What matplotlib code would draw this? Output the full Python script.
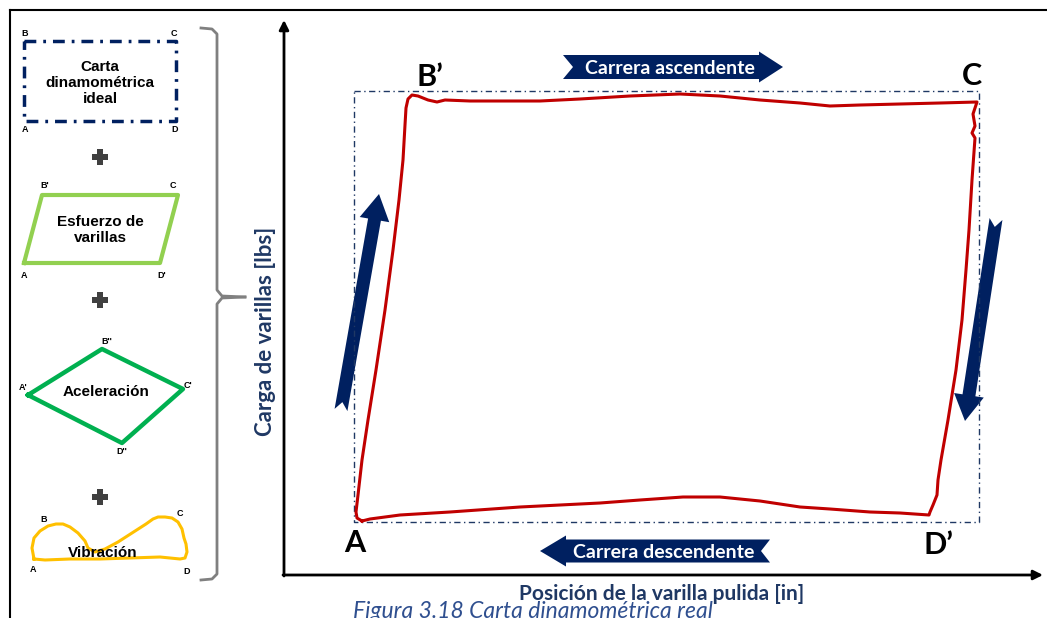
import numpy as np
import matplotlib.pyplot as plt
from matplotlib.patches import Polygon

NAVY = "#002060"
LABEL_NAVY = "#1F3864"
RED = "#C00000"

# --- left panel shapes (pixel coords, y down) ---
ideal_x = [24, 176, 176, 24, 24]
ideal_y = [41, 41, 121, 121, 41]
ideal_labels = ["B", "C", "A", "D"]

rod_x = [24, 42, 178, 160, 24]
rod_y = [263, 195, 195, 263, 263]
rod_labels = ["B'", "C", "A", "D'"]

acc_x = [28, 102, 183, 122, 28]
acc_y = [395, 349, 389, 443, 395]
acc_labels = ["B''", "A'", "C'", "D''"]

vib_x = [34, 32, 34, 40, 48, 56, 63, 70, 78, 85, 88, 95, 105, 118, 132, 146, 153, 158, 165,
         172, 178, 182, 184, 186, 187, 185, 180, 160, 130, 100, 70, 45, 34]
vib_y = [559, 548, 538, 531, 526, 524, 524, 527, 533, 541, 548, 552, 549, 542, 533, 524, 519,
         517, 517, 518, 522, 529, 538, 544, 552, 558, 559, 557, 558, 559, 559, 560, 559]
vib_labels = ["B", "C", "A", "D"]

# --- real dynamometer card (red trace) ---
card_x = [362, 357, 356, 358, 362, 368, 376, 385, 393, 399, 403, 405, 406, 408, 412, 418, 428,
          437, 445, 470, 500, 540, 580, 630, 680, 720, 760, 800, 830, 860, 900, 940, 977, 973,
          975, 972, 975, 972, 969, 966, 962, 956, 948, 941, 938, 937, 933, 930, 929, 900, 870,
          830, 800, 760, 720, 683, 640, 600, 520, 450, 400, 370, 362]
card_y = [521, 518, 512, 495, 460, 420, 370, 310, 250, 200, 160, 125, 108, 99, 95, 96, 100,
          102, 100, 101, 101, 101, 99, 96, 94, 96, 100, 103, 106, 105, 104, 103, 102, 114,
          126, 133, 138, 180, 230, 270, 320, 370, 420, 460, 480, 495, 505, 512, 515, 513, 512,
          509, 507, 501, 497, 497, 500, 503, 507, 512, 515, 519, 521]

ideal_rect_x = [354, 979, 979, 354, 354]
ideal_rect_y = [91, 91, 522, 522, 91]
corner_labels = ["B\u2019", "C", "A", "D\u2019"]

up_text = "Carrera ascendente"
down_text = "Carrera descendente"
xlabel = "Posición de la varilla pulida [in]"
ylabel = "Carga de varillas [lbs]"
caption = "Figura 3.18 Carta dinamométrica real"


def notched_arrow(tail, tip, body_w, head_w, head_len, notch):
    tail = np.array(tail, float)
    tip = np.array(tip, float)
    d = tip - tail
    L = np.hypot(*d)
    u = d / L
    n = np.array([-u[1], u[0]])
    hb = tip - u * head_len
    pts = [tail + n * body_w / 2, hb + n * body_w / 2, hb + n * head_w / 2, tip,
           hb - n * head_w / 2, hb - n * body_w / 2, tail - n * body_w / 2, tail + u * notch]
    return np.array(pts)


fig = plt.figure(figsize=(10.47, 6.18), dpi=100)
ax = fig.add_axes([0, 0, 1, 1])
ax.set_xlim(0, 1047)
ax.set_ylim(618, 0)
ax.axis("off")

# page border
ax.plot([10, 1047], [10, 10], color="black", lw=1.5)
ax.plot([10, 10], [10, 618], color="black", lw=1.5)

# left panel
sm = dict(fontsize=6.5, fontweight="bold", family="Liberation Sans", ha="center", va="center")
big = dict(fontsize=11, fontweight="bold", family="Liberation Sans", ha="center", va="center",
           linespacing=1.2)

ax.plot(ideal_x, ideal_y, color=NAVY, lw=2.5, linestyle=(0, (3.4, 2, 0.8, 2)))
for (lx, ly), t in zip([(25, 33), (174, 34), (25, 129), (175, 129)], ideal_labels):
    ax.text(lx, ly, t, **sm)
ax.text(100, 83, "Carta\ndinamométrica\nideal", **big)

ax.plot(rod_x, rod_y, color="#92D050", lw=3)
for (lx, ly), t in zip([(45, 186), (173, 186), (24, 276), (162, 275)], rod_labels):
    ax.text(lx, ly, t, **sm)
ax.text(100, 230, "Esfuerzo de\nvarillas", **big)

ax.plot(acc_x, acc_y, color="#00B050", lw=3.2)
for (lx, ly), t in zip([(107, 341), (23, 388), (188, 385), (122, 452)], acc_labels):
    ax.text(lx, ly, t, **sm)
ax.text(106, 392, "Aceleración", **big)

ax.plot(vib_x, vib_y, color="#FFC000", lw=2.2)
for (lx, ly), t in zip([(44, 520), (180, 513), (33, 569), (187, 571)], vib_labels):
    ax.text(lx, ly, t, **sm)
ax.text(103, 553, "Vibración", **big)

for py in [157, 300, 497]:
    ax.plot(100, py, marker="P", markersize=11, color="#404040", markeredgewidth=0)

# brace
ax.plot([201, 212, 217, 217, 222, 245], [28, 29, 34, 290, 296, 297], color="#808080", lw=2)
ax.plot([245, 222, 217, 217, 212, 201], [297, 298, 304, 574, 579, 580], color="#808080", lw=2)

# main axes arrows
ax.annotate("", xy=(284, 20), xytext=(284, 576),
            arrowprops=dict(arrowstyle="-|>", color="black", lw=2, mutation_scale=14,
                            shrinkA=0, shrinkB=0))
ax.annotate("", xy=(1043, 575), xytext=(283, 575),
            arrowprops=dict(arrowstyle="-|>", color="black", lw=2, mutation_scale=14,
                            shrinkA=0, shrinkB=0))

ax.text(265, 331, ylabel, rotation=90, color=LABEL_NAVY, fontsize=16, fontweight="bold",
        family="Lato", ha="center", va="center")
ax.text(662, 594, xlabel, color=LABEL_NAVY, fontsize=15, fontweight="bold",
        family="Lato", ha="center", va="center")
ax.text(533, 612, caption, color="#2F4F8F", fontsize=16.5, style="italic",
        family="Lato", ha="center", va="center")

# ideal rectangle and real card
ax.plot(ideal_rect_x, ideal_rect_y, color=LABEL_NAVY, lw=1, linestyle=(0, (4.5, 2.5, 1, 2.5)))
ax.plot(card_x, card_y, color=RED, lw=2.2, solid_joinstyle="round")

lab = dict(fontsize=22, fontweight="bold", family="Lato", ha="center", va="center")
for (lx, ly), t in zip([(430, 77), (972, 76), (355, 543), (938, 545)], corner_labels):
    ax.text(lx, ly, t, **lab)

# direction arrows
ax.add_patch(Polygon(notched_arrow((563, 67), (783, 67), 24, 31, 24, 10), closed=True,
                     color=NAVY, lw=0))
ax.text(670, 68, up_text, color="white", fontsize=14, fontweight="bold", family="Lato",
        ha="center", va="center")
ax.add_patch(Polygon(notched_arrow((770, 551), (540, 551), 23, 31, 26, 9), closed=True,
                     color=NAVY, lw=0))
ax.text(664, 552, down_text, color="white", fontsize=14, fontweight="bold", family="Lato",
        ha="center", va="center")
ax.add_patch(Polygon(notched_arrow((341, 410), (379, 194), 13, 30, 26, 8), closed=True,
                     color=NAVY, lw=0))
ax.add_patch(Polygon(notched_arrow((996, 219), (965, 421), 13, 30, 26, 8), closed=True,
                     color=NAVY, lw=0))

fig.savefig("out.png", dpi=100)
